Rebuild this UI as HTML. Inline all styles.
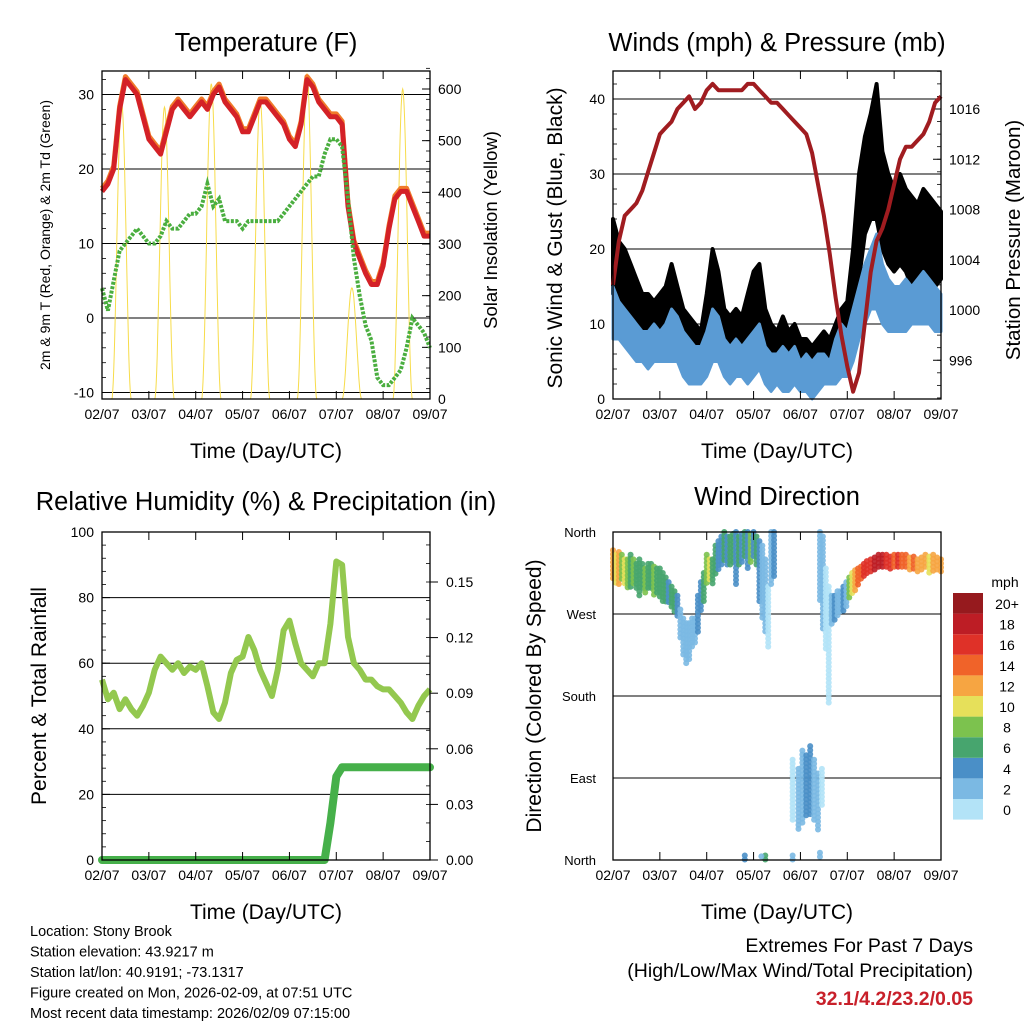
<!DOCTYPE html>
<html><head><meta charset="utf-8"><style>
html,body{margin:0;padding:0;background:#fff;}
svg{display:block;font-family:"Liberation Sans",Arial,sans-serif;}
</style></head><body>
<svg id="s" width="1024" height="1024" viewBox="0 0 1024 1024"></svg>
<script>
// ---------- DATA (3-hour steps, hour 0..168) ----------
const hours=[];for(let i=0;i<=56;i++)hours.push(i*3);
const dayLabels=["02/07","03/07","04/07","05/07","06/07","07/07","08/07","09/07"];
const tempT=[17,18,20,28,32,31,30,27,24,23,22,25,28,29,28,27,28,29,28,30,31,29,28,27,25,25,27,29,29,28,27,26,24,23,26,32,31,29,28,27,27,26,15,10,8,6,4.5,4.5,7,12,16,17,17,15,13,11,11];
const tempTd=[4,1,5,9,10,11,12,11,10,10,11,13,12,12,13,14,14,15,18,15,16,13,13,13,12,13,13,13,13,13,13,14,15,16,17,18,19,19,22,24,24,23,16,8,3,-1,-3,-8,-9,-9,-8,-7,-4,0,-1,-2,-4];
const solarPeak=[575,565,610,580,630,215,600];
const solarPeakHour=[10,32,56,81,105,128,154];
const tempTicks=[-10,0,10,20,30];
const solarTicks=[0,100,200,300,400,500,600];
const pressure=[1002,1005.5,1007.5,1008,1008.5,1009.5,1011,1012.5,1014,1014.5,1015,1016,1016.5,1017,1016,1016.5,1017.5,1018,1017.5,1017.5,1017.5,1017.5,1017.5,1018,1018,1017.5,1017,1016.5,1016.5,1016,1015.5,1015,1014.5,1014,1012.5,1010,1007.5,1004.5,1001,998,995.5,993.5,995,999,1003,1005.5,1006.5,1008,1010,1012,1013,1013,1013.5,1014,1015,1016.5,1017];
const windLo=[8,8,7,6,5,5,4,5,5,5,5,5,3,2,2,2,3,5,5,3,2,3,3,2,3,4,2,1,2,1,1,2,1,1,0,1,2,2,2,3,3,5,8,10,12,12,10,9,9,9,9,10,10,10,10,9,9];
const windHi=[15,13,12,11,10,9,9,10,9,10,12,11,9,8,7,7,9,12,11,8,7,8,7,8,9,10,7,6,6,7,6,7,5,6,5,6,6,5,8,10,9,12,15,18,20,22,18,16,15,15,16,15,16,17,16,15,14];
const gustLo=[14,13,12,11,9,8,7,7,7,7,8,7,5,4,4,3,5,8,7,5,4,5,4,5,6,6,4,3,3,3,2,3,2,2,1,2,3,3,3,4,5,10,16,22,24,24,20,18,17,18,17,15,15,16,16,15,16];
const gustHi=[24,21,20,18,16,14,14,13,14,15,18,15,12,11,10,9,14,20,17,12,11,12,11,14,17,18,12,10,9,11,9,10,8,8,7,8,9,8,10,12,13,20,30,35,38,42,33,30,28,30,28,27,26,28,27,26,25];
const windTicks=[0,10,20,30,40];
const pressTicks=[996,1000,1004,1008,1012,1016];
const rh=[55,49,51,46,49,46,44,47,51,58,62,60,58,60,57,59,58,60,53,45,43,48,57,61,62,68,64,58,54,50,58,70,73,66,60,58,56,60,60,72,91,90,68,60,58,55,55,53,52,52,50,48,45,43,47,50,52];
const precip=[0,0,0,0,0,0,0,0,0,0,0,0,0,0,0,0,0,0,0,0,0,0,0,0,0,0,0,0,0,0,0,0,0,0,0,0,0,0,0,0.02,0.045,0.05,0.05,0.05,0.05,0.05,0.05,0.05,0.05,0.05,0.05,0.05,0.05,0.05,0.05,0.05,0.05];
const rhTicks=[0,20,40,60,80,100];
const precipTicks=[0,0.03,0.06,0.09,0.12,0.15];
// wind direction columns: hour, low deg, high deg, speed mph
const dirHour=[0,1.5,3,4.5,6,7.5,9,10.5,12,13.5,15,16.5,18,19.5,21,22.5,24,25.5,27,28.5,30,31.5,33,34.5,36,37.5,39,40.5,42,43.5,45,46.5,48,49.5,51,52.5,54,55.5,57,58.5,60,61.5,63,64.5,66,67.5,69,70.5,72,73.5,75,76.5,78,79.5,81,82.5,106,107.5,109,110.5,112,113.5,115,116.5,118,119.5,121,122.5,124,125.5,127,128.5,130,132,134,136,138,140,142,144,146,148,150,152,154,156,158,160,162,164,166,168,67.5,78,76,92,95,97,99,101,103,105,107,106,92];
const dirLo=[305,300,300,305,300,295,298,300,295,290,295,290,295,295,290,290,285,280,282,280,275,270,265,240,225,215,220,230,235,250,270,280,300,305,300,310,315,320,325,320,320,325,300,320,325,330,320,325,330,320,280,265,250,230,300,310,285,250,230,170,255,260,265,270,270,275,285,290,295,300,305,310,312,315,315,318,318,320,318,318,318,318,318,315,318,315,315,318,315,315,318,315,0,0,0,40,30,40,45,50,40,30,60,0,0];
const dirHi=[340,335,338,335,330,330,335,330,325,330,325,320,325,325,322,320,320,315,310,305,300,295,290,275,265,260,260,265,265,290,305,315,335,330,330,345,350,355,360,355,355,358,360,355,358,360,360,358,360,355,350,345,330,300,360,360,360,355,320,300,290,290,295,295,300,305,310,315,318,320,322,325,328,330,332,335,335,335,333,335,335,335,335,332,333,330,332,335,333,335,332,330,5,5,4,110,100,120,115,125,110,95,100,8,5];
const dirSpd=[12,10,13,9,11,8,7,9,7,6,7,8,6,7,8,7,6,6,7,5,6,7,5,3,2,2,2,2,3,4,5,7,9,11,7,6,5,4,7,5,6,7,4,6,5,7,4,8,5,6,4,3,2,1,3,4,3,2,1,1,3,4,3,2,4,3,8,10,12,14,15,16,16,17,18,18,19,17,16,15,16,15,14,13,14,13,12,13,11,12,13,12,4,6,2,1,2,3,4,4,3,3,1,3,2];
const spdColors=["#b3e3f7","#7bb9e3","#4a8fc7","#47a56e","#7cc24e","#e6e05a","#f6a542","#f06329","#df3128","#bd1d25","#961a1e"];
const spdLabels=["0","2","4","6","8","10","12","14","16","18","20+"];

// ---------- helpers ----------
const svg=document.getElementById('s');
const NS="http://www.w3.org/2000/svg";
function el(tag,attrs,parent){const e=document.createElementNS(NS,tag);for(const k in attrs)e.setAttribute(k,attrs[k]);(parent||svg).appendChild(e);return e;}
function txt(str,x,y,size,anchor,parent,extra){const t=el('text',Object.assign({x:x,y:y,'font-size':size,'text-anchor':anchor||'middle',fill:'#000'},extra||{}),parent);t.textContent=str;return t;}
const W=328,H=328;
function xScale(x0){return h=>x0+h/168*W;}
function yScale(y0,y1,v0,v1){return v=>y0+(v-v0)/(v1-v0)*(y1-y0);}
function pathOf(xs,ys,xf,yf){return xs.map((h,i)=>(i?'L':'M')+xf(h).toFixed(1)+','+yf(ys[i]).toFixed(1)).join('');}

function frame(g,x0,y0){
  const xf=xScale(x0);
  for(let d=0;d<=7;d++){
    const x=xf(d*24);
    const tk=el('line',{x1:x,y1:y0+H,x2:x,y2:y0+H-8,stroke:'#000','stroke-width':1},g);
    
    el('line',{x1:x,y1:y0,x2:x,y2:y0+8,stroke:'#000','stroke-width':1},g);
    const t=txt(dayLabels[d],x,y0+H+20,14,'middle',g);
    
  }
  const xt=txt('Time (Day/UTC)',x0+W/2,y0+H+59,21,'middle',g);
  
}
function border(g,x0,y0){const r=el('rect',{x:x0,y:y0,width:W,height:H,fill:'none',stroke:'#000','stroke-width':1.3},g);}

// ================= Panel 1: Temperature =================
(function(){
  const x0=102,y0=71;
  const g=el('g',{});
  const xf=xScale(x0);
  const yT=yScale(318,94.5,0,30);
  const yS=yScale(399,89,0,600);
  tempTicks.forEach(v=>{el('line',{x1:x0,x2:x0+W,y1:yT(v),y2:yT(v),stroke:'#000','stroke-width':1},g);
    const t=txt(String(v),x0-8,yT(v)+5,14,'end',g);
    el('line',{x1:x0,x2:x0+8,y1:yT(v),y2:yT(v),stroke:'#000'},g);});
  for(let v=-10;v<=32;v+=2){el('line',{x1:x0,x2:x0+4,y1:yT(v),y2:yT(v),stroke:'#000','stroke-width':0.8},g);}
  solarTicks.forEach(v=>{el('line',{x1:x0+W,x2:x0+W-8,y1:yS(v),y2:yS(v),stroke:'#000'},g);
    const t=txt(String(v),x0+W+8,yS(v)+5,14,'start',g);});
  for(let v=0;v<=640;v+=20){el('line',{x1:x0+W,x2:x0+W-4,y1:yS(v),y2:yS(v),stroke:'#000','stroke-width':0.8},g);}
  solarPeak.forEach((p,i)=>{
    const c=solarPeakHour[i];let d='';
    for(let k=-6;k<=6;k+=0.25){const f=Math.abs(k)>5?0:Math.pow(Math.cos(k/5*Math.PI/2),2);d+=(d?'L':'M')+xf(c+k).toFixed(1)+','+yS(p*f).toFixed(1);}
    const s=el('path',{d:d,fill:'none',stroke:'#f7dc4a','stroke-width':1},g);
    
  });
  const o=el('path',{d:pathOf(hours,tempT.map(v=>v+0.4),xf,yT),fill:'none',stroke:'#f07a2a','stroke-width':5,'stroke-linejoin':'round'},g);
  
  const r=el('path',{d:pathOf(hours,tempT,xf,yT),fill:'none',stroke:'#d42127','stroke-width':5,'stroke-linejoin':'round'},g);
  
  const gd=el('path',{d:pathOf(hours,tempTd,xf,yT),fill:'none',stroke:'#4aae3f','stroke-width':4,'stroke-dasharray':'3 1.5'},g);
  
  border(g,x0,y0);frame(g,x0,y0);
  const t=txt('Temperature (F)',x0+W/2,51,25.5,'middle',g);
  const yl=txt('2m & 9m T (Red, Orange) & 2m Td (Green)',0,0,14,'middle',g,{transform:'translate(50,235) rotate(-90)'});
  
  const yr=txt('Solar Insolation (Yellow)',0,0,18.5,'middle',g,{transform:'translate(497,230) rotate(-90)'});
  
})();

// ================= Panel 2: Winds =================
(function(){
  const x0=613,y0=71;
  const g=el('g',{});
  const xf=xScale(x0);
  const yW=yScale(399,99,0,40);
  const yP=yScale(310,109,1000,1016);
  windTicks.forEach(v=>{if(v>0)el('line',{x1:x0,x2:x0+W,y1:yW(v),y2:yW(v),stroke:'#000'},g);
    el('line',{x1:x0,x2:x0+8,y1:yW(v),y2:yW(v),stroke:'#000'},g);
    const t=txt(String(v),x0-8,yW(v)+5,14,'end',g);});
  for(let v=0;v<=42;v+=2)el('line',{x1:x0,x2:x0+4,y1:yW(v),y2:yW(v),stroke:'#000','stroke-width':0.8},g);
  pressTicks.forEach(v=>{el('line',{x1:x0+W,x2:x0+W-8,y1:yP(v),y2:yP(v),stroke:'#000'},g);
    const t=txt(String(v),x0+W+8,yP(v)+5,14,'start',g);});
  for(let v=993;v<=1019;v++)el('line',{x1:x0+W,x2:x0+W-4,y1:yP(v),y2:yP(v),stroke:'#000','stroke-width':0.8},g);
  function band(lo,hi,color,name,dot){
    const up=hours.map((h,i)=>xf(h).toFixed(1)+','+yW(hi[i]).toFixed(1));
    const dn=hours.map((h,i)=>xf(h).toFixed(1)+','+yW(lo[i]).toFixed(1)).reverse();
    const p=el('polygon',{points:up.concat(dn).join(' '),fill:color,stroke:color,'stroke-width':dot,'stroke-linejoin':'round'},g);
    
  }
  band(gustLo,gustHi,'#000','gust-scatter',4);
  band(windLo,windHi,'#5a9bd4','wind-speed-scatter',3);
  const pp=el('path',{d:pathOf(hours,pressure,xf,yP),fill:'none',stroke:'#a01c20','stroke-width':4,'stroke-linejoin':'round'},g);
  
  border(g,x0,y0);frame(g,x0,y0);
  const t=txt('Winds (mph) & Pressure (mb)',x0+W/2,51,25.5,'middle',g);
  const yl=txt('Sonic Wind & Gust (Blue, Black)',0,0,21,'middle',g,{transform:'translate(562,238) rotate(-90)'});
  
  const yr=txt('Station Pressure (Maroon)',0,0,20.5,'middle',g,{transform:'translate(1020,240) rotate(-90)'});
  
})();

// ================= Panel 3: RH & Precip =================
(function(){
  const x0=102,y0=532;
  const g=el('g',{});
  const xf=xScale(x0);
  const yR=yScale(860,532,0,100);
  const yP=yScale(860,582,0,0.15);
  rhTicks.forEach(v=>{if(v>0&&v<100)el('line',{x1:x0,x2:x0+W,y1:yR(v),y2:yR(v),stroke:'#000'},g);
    el('line',{x1:x0,x2:x0+8,y1:yR(v),y2:yR(v),stroke:'#000'},g);
    const t=txt(String(v),x0-8,yR(v)+5,14,'end',g);});
  for(let v=0;v<=100;v+=4)el('line',{x1:x0,x2:x0+4,y1:yR(v),y2:yR(v),stroke:'#000','stroke-width':0.8},g);
  precipTicks.forEach(v=>{el('line',{x1:x0+W,x2:x0+W+8,y1:yP(v),y2:yP(v),stroke:'#000'},g);
    const t=txt(v.toFixed(2),x0+W+16,yP(v)+5,14,'start',g);});
  for(let v=0;v<=0.175;v+=0.01)el('line',{x1:x0+W,x2:x0+W-4,y1:yP(v),y2:yP(v),stroke:'#000','stroke-width':0.8},g);
  const r=el('path',{d:pathOf(hours,rh,xf,yR),fill:'none',stroke:'#93c84f','stroke-width':6,'stroke-linejoin':'round'},g);
  
  const p=el('path',{d:pathOf(hours,precip,xf,yP),fill:'none',stroke:'#46b04a','stroke-width':8,'stroke-linecap':'round','stroke-linejoin':'round'},g);
  
  border(g,x0,y0);frame(g,x0,y0);
  const t=txt('Relative Humidity (%) & Precipitation (in)',266,510,25.5,'middle',g);
  const yl=txt('Percent & Total Rainfall',0,0,21,'middle',g,{transform:'translate(46,696) rotate(-90)'});
  
})();

// ================= Panel 4: Wind direction =================
(function(){
  const x0=613,y0=532;
  const g=el('g',{});
  const xf=xScale(x0);
  const yD=yScale(860,532,0,360);
  const dirNames=[["North",360],["West",270],["South",180],["East",90],["North",0]];
  dirNames.forEach(([n,v])=>{if(v>0&&v<360)el('line',{x1:x0,x2:x0+W,y1:yD(v),y2:yD(v),stroke:'#000'},g);
    el('line',{x1:x0,x2:x0+8,y1:yD(v),y2:yD(v),stroke:'#000'},g);
    const t=txt(n,x0-17,yD(v)+5,13,'end',g);});
  dirHour.forEach((h,i)=>{
    const c=spdColors[Math.min(10,Math.floor(dirSpd[i]/2))];
    const ya=yD(dirHi[i]),yb=yD(dirLo[i]);
    for(let y=ya;y<=yb+0.1;y+=4){
      const d=el('circle',{cx:xf(h),cy:y,r:3,fill:c,'fill-opacity':0.9},g);
      
    }
  });
  border(g,x0,y0);frame(g,x0,y0);
  const t=txt('Wind Direction',x0+W/2,505,25.5,'middle',g);
  const yl=txt('Direction (Colored By Speed)',0,0,21,'middle',g,{transform:'translate(541,696) rotate(-90)'});
  
  const cb=el('g',{},g);
  const u=txt('mph',1005,587,14,'middle',cb);
  for(let i=0;i<11;i++){
    const yy=593+(10-i)*20.6;
    const b=el('rect',{x:953,y:yy,width:30,height:20.6,fill:spdColors[i]},cb);
    
    const l=txt(spdLabels[i],1007,yy+16,14,'middle',cb);
  }
})();

// ================= Footer text =================
const info=["Location: Stony Brook","Station elevation: 43.9217 m","Station lat/lon: 40.9191; -73.1317","Figure created on Mon, 2026-02-09, at 07:51 UTC","Most recent data timestamp: 2026/02/09 07:15:00"];
info.forEach((s,i)=>{const t=txt(s,30,936+i*20.5,14.5,'start');});
let t1=txt('Extremes For Past 7 Days',973,952,19.5,'end');
let t2=txt('(High/Low/Max Wind/Total Precipitation)',973,977,19.5,'end');
let t3=txt('32.1/4.2/23.2/0.05',973,1005,19.5,'end',null,{fill:'#c8202a','font-weight':'bold'});
</script>
</body></html>
